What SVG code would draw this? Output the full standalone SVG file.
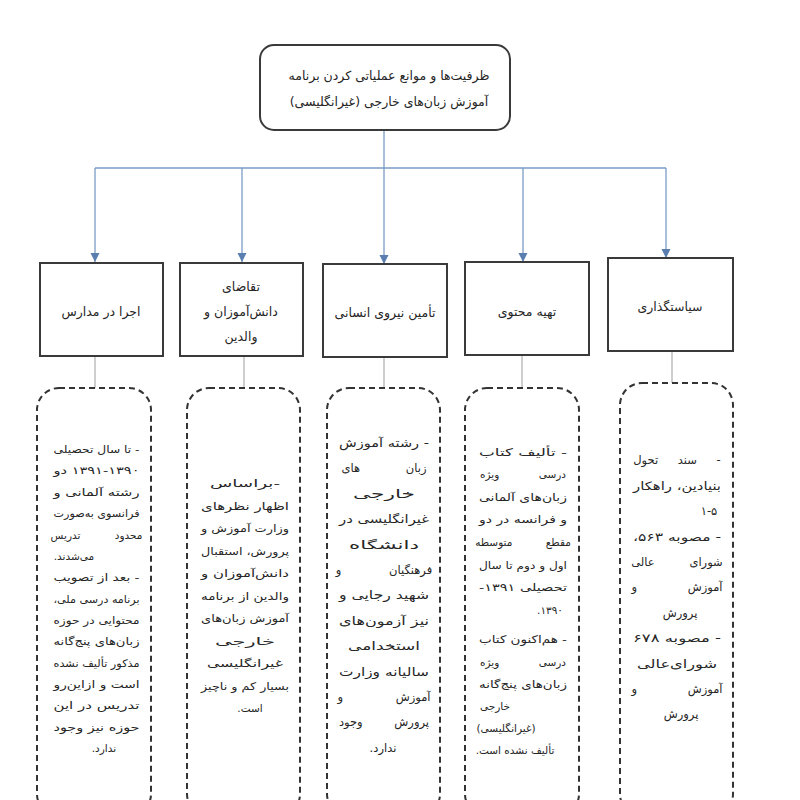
<svg xmlns="http://www.w3.org/2000/svg" width="800" height="800" viewBox="0 0 800 800">
<style>
.box { fill: #ffffff; stroke: #3a3a3a; stroke-width: 2; }
.dash { fill: none; stroke: #333333; stroke-width: 2; stroke-dasharray: 6 4; }
.blue { fill: none; stroke: #7b9cc6; stroke-width: 1.3; }
.gray { fill: none; stroke: #b4b4b4; stroke-width: 1.3; }
.lbl { font-family: "DejaVu Sans", sans-serif; font-size: 12.5px; fill: #262626; direction: rtl; text-anchor: middle; }
.t { font-family: "DejaVu Sans", sans-serif; font-size: 10.5px; fill: #262626; direction: rtl; text-anchor: middle; }
.t3 { font-size: 11.5px; }
</style>
<rect width="800" height="800" fill="#ffffff"/>

<g id="connectors">
<path class="blue" d="M384,131 V168 M95,168 H666"/>
<path class="blue" d="M95,168 V262 M242,168 V262 M384,168 V264 M523,168 V262 M666,168 V258"/>
<path d="M90.5,253 L99.5,253 L95,262 Z M237.5,253 L246.5,253 L242,262 Z M379.5,255 L388.5,255 L384,264 Z M518.5,253 L527.5,253 L523,262 Z M661.5,249 L670.5,249 L666,258 Z" fill="#5a7eb0"/>
<path class="gray" d="M95,356 V388 M244,356 V388 M384,358 V388 M522,356 V388 M672,352 V383"/>
</g>

<g id="root">
<rect class="box" x="260" y="45" width="250" height="85" rx="14"/>
<text class="lbl" x="389" y="80">ظرفیت‌ها و موانع عملیاتی کردن برنامه</text>
<text class="lbl" x="389" y="106">آموزش زبان‌های خارجی (غیرانگلیسی)</text>
</g>

<g id="n1">
<rect class="box" x="40" y="263" width="123" height="93"/>
<text class="lbl" x="101" y="316">اجرا در مدارس</text>
</g>
<g id="n2">
<rect class="box" x="180" y="263" width="123" height="93"/>
<text class="lbl" x="241" y="291">تقاضای</text>
<text class="lbl" x="241" y="316">دانش‌آموزان و</text>
<text class="lbl" x="241" y="341">والدین</text>
</g>
<g id="n3">
<rect class="box" x="323" y="264" width="124" height="93"/>
<text class="lbl" x="385" y="317">تأمین نیروی انسانی</text>
</g>
<g id="n4">
<rect class="box" x="465" y="262" width="124" height="93"/>
<text class="lbl" x="527" y="316">تهیه محتوی</text>
</g>
<g id="n5">
<rect class="box" x="608" y="258" width="125" height="93"/>
<text class="lbl" x="670" y="311">سیاستگذاری</text>
</g>

<g id="d1">
<rect class="dash" x="37" y="388" width="114" height="428" rx="22"/>
<text class="t" x="96.5" y="453" textLength="86" lengthAdjust="spacingAndGlyphs">- تا سال تحصیلی</text>
<text class="t" x="96.5" y="474" textLength="86" lengthAdjust="spacingAndGlyphs">۱۳۹۱-۱۳۹۰ دو</text>
<text class="t" x="96.5" y="496" textLength="86" lengthAdjust="spacingAndGlyphs">رشته آلمانی و</text>
<text class="t" x="96.5" y="517" textLength="86" lengthAdjust="spacingAndGlyphs">فرانسوی به‌صورت</text>
<text class="t" x="96.5" y="539" word-spacing="31">محدود تدریس</text>
<text class="t" x="74" y="560">می‌شدند.</text>
<text class="t" x="96.5" y="581" textLength="86" lengthAdjust="spacingAndGlyphs">- بعد از تصویب</text>
<text class="t" x="96.5" y="603" textLength="86" lengthAdjust="spacingAndGlyphs">برنامه درسی ملی،</text>
<text class="t" x="96.5" y="624" textLength="86" lengthAdjust="spacingAndGlyphs">محتوایی در حوزه</text>
<text class="t" x="96.5" y="645" textLength="86" lengthAdjust="spacingAndGlyphs">زبان‌های پنج‌گانه</text>
<text class="t" x="96.5" y="667" textLength="86" lengthAdjust="spacingAndGlyphs">مذکور تألیف نشده</text>
<text class="t" x="96.5" y="688" textLength="86" lengthAdjust="spacingAndGlyphs">است و ازاین‌رو</text>
<text class="t" x="96.5" y="709" textLength="86" lengthAdjust="spacingAndGlyphs">تدریس در این</text>
<text class="t" x="96.5" y="731" textLength="86" lengthAdjust="spacingAndGlyphs">حوزه نیز وجود</text>
<text class="t" x="104" y="752">ندارد.</text>
</g>

<g id="d2">
<rect class="dash" x="187" y="388" width="113" height="428" rx="22"/>
<text class="t" x="245" y="487" textLength="70" lengthAdjust="spacingAndGlyphs">-براساس</text>
<text class="t" x="245" y="510" textLength="88" lengthAdjust="spacingAndGlyphs">اظهار نظرهای</text>
<text class="t" x="245" y="532" textLength="88" lengthAdjust="spacingAndGlyphs">وزارت آموزش و</text>
<text class="t" x="245" y="555" textLength="88" lengthAdjust="spacingAndGlyphs">پرورش، استقبال</text>
<text class="t" x="245" y="577" textLength="88" lengthAdjust="spacingAndGlyphs">دانش‌آموزان و</text>
<text class="t" x="245" y="600" textLength="88" lengthAdjust="spacingAndGlyphs">والدین از برنامه</text>
<text class="t" x="245" y="622" textLength="88" lengthAdjust="spacingAndGlyphs">آموزش زبان‌های</text>
<text class="t" x="245" y="645" textLength="60" lengthAdjust="spacingAndGlyphs">خارجی</text>
<text class="t" x="245" y="667" textLength="76" lengthAdjust="spacingAndGlyphs">غیرانگلیسی</text>
<text class="t" x="245" y="690" textLength="88" lengthAdjust="spacingAndGlyphs">بسیار کم و ناچیز</text>
<text class="t" x="250" y="712">است.</text>
</g>

<g id="d3">
<rect class="dash" x="327" y="388" width="113" height="428" rx="22"/>
<text class="t t3" x="384" y="447" textLength="90" lengthAdjust="spacingAndGlyphs">- رشته آموزش</text>
<text class="t t3" x="384" y="472" word-spacing="42">زبان های</text>
<text class="t t3" x="384" y="498" textLength="62" lengthAdjust="spacingAndGlyphs">خارجی</text>
<text class="t t3" x="384" y="523" textLength="90" lengthAdjust="spacingAndGlyphs">غیرانگلیسی در</text>
<text class="t t3" x="384" y="549" textLength="70" lengthAdjust="spacingAndGlyphs">دانشگاه</text>
<text class="t t3" x="384" y="574" word-spacing="44">فرهنگیان و</text>
<text class="t t3" x="384" y="599" textLength="90" lengthAdjust="spacingAndGlyphs">شهید رجایی و</text>
<text class="t t3" x="384" y="625" textLength="90" lengthAdjust="spacingAndGlyphs">نیز آزمون‌های</text>
<text class="t t3" x="384" y="650" textLength="72" lengthAdjust="spacingAndGlyphs">استخدامی</text>
<text class="t t3" x="384" y="676" textLength="90" lengthAdjust="spacingAndGlyphs">سالیانه وزارت</text>
<text class="t t3" x="384" y="701" word-spacing="49">آموزش و</text>
<text class="t t3" x="384" y="726" word-spacing="28">پرورش وجود</text>
<text class="t t3" x="383" y="752">ندارد.</text>
</g>

<g id="d4">
<rect class="dash" x="465" y="388" width="114" height="428" rx="22"/>
<text class="t" x="523" y="456" textLength="88" lengthAdjust="spacingAndGlyphs">- تألیف کتاب</text>
<text class="t" x="523" y="478" word-spacing="36">درسی ویژه</text>
<text class="t" x="523" y="501" textLength="88" lengthAdjust="spacingAndGlyphs">زبان‌های آلمانی</text>
<text class="t" x="523" y="523" textLength="88" lengthAdjust="spacingAndGlyphs">و فرانسه در دو</text>
<text class="t" x="523" y="546" word-spacing="30">مقطع متوسطه</text>
<text class="t" x="523" y="569" textLength="88" lengthAdjust="spacingAndGlyphs">اول و دوم تا سال</text>
<text class="t" x="523" y="591" textLength="88" lengthAdjust="spacingAndGlyphs">تحصیلی ۱۳۹۱-</text>
<text class="t" x="550" y="614">۱۳۹۰.</text>
<text class="t" x="523" y="643" textLength="88" lengthAdjust="spacingAndGlyphs">- هم‌اکنون کتاب</text>
<text class="t" x="523" y="666" word-spacing="36">درسی ویژه</text>
<text class="t" x="523" y="688" textLength="88" lengthAdjust="spacingAndGlyphs">زبان‌های پنج‌گانه</text>
<text class="t" x="495" y="710">خارجی</text>
<text class="t" x="506" y="732">(غیرانگلیسی)</text>
<text class="t" x="515" y="754">تألیف نشده است.</text>
</g>

<g id="d5">
<rect class="dash" x="620" y="383" width="113" height="433" rx="22"/>
<text class="t t3" x="677" y="464" word-spacing="16">- سند تحول</text>
<text class="t t3" x="677" y="490" textLength="88" lengthAdjust="spacingAndGlyphs">بنیادین، راهکار</text>
<text class="t t3" x="709" y="515">۱-۵</text>
<text class="t t3" x="677" y="541" textLength="88" lengthAdjust="spacingAndGlyphs">- مصوبه ۵۶۳،</text>
<text class="t t3" x="677" y="566" word-spacing="31">شورای عالی</text>
<text class="t t3" x="677" y="591" word-spacing="47">آموزش و</text>
<text class="t t3" x="680" y="617">پرورش</text>
<text class="t t3" x="677" y="642" textLength="88" lengthAdjust="spacingAndGlyphs">- مصوبه ۶۷۸</text>
<text class="t t3" x="677" y="668" textLength="80" lengthAdjust="spacingAndGlyphs">شورای‌عالی</text>
<text class="t t3" x="677" y="693" word-spacing="47">آموزش و</text>
<text class="t t3" x="681" y="718">پرورش</text>
</g>
</svg>
